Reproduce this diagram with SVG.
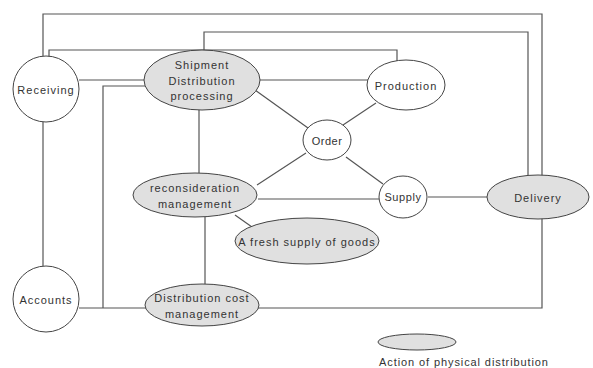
<svg xmlns="http://www.w3.org/2000/svg" width="593" height="368" viewBox="0 0 593 368">
<style>
.c{fill:#fff;stroke:#444;stroke-width:1}
.g{fill:#e0e0e0;stroke:#444;stroke-width:1}
.l{fill:none;stroke:#555;stroke-width:1.2}
text{font-family:"Liberation Sans",Arial,sans-serif;font-size:11px;fill:#333;text-anchor:middle;letter-spacing:1px}
</style>
<rect width="593" height="368" fill="#fff"/>
<g id="connectors">
<polyline class="l" points="43,56 43,14 542,14 542,177"/>
<polyline class="l" points="204,50 204,32 528,32 528,177"/>
<polyline class="l" points="49,57 49,50 397,50 397,61"/>
<line class="l" x1="79" y1="80" x2="144" y2="80"/>
<line class="l" x1="259" y1="80" x2="368" y2="80"/>
<polyline class="l" points="103,308 103,86 145,86"/>
<line class="l" x1="43" y1="122" x2="43" y2="266"/>
<line class="l" x1="79" y1="308" x2="146" y2="308"/>
<polyline class="l" points="258,308 542,308 542,218"/>
<line class="l" x1="199" y1="110" x2="199" y2="173"/>
<line class="l" x1="205" y1="217" x2="205" y2="284"/>
<line class="l" x1="235" y1="215" x2="252" y2="227"/>
<line class="l" x1="258" y1="199" x2="379" y2="199"/>
<line class="l" x1="428" y1="197" x2="487" y2="197"/>
<line class="l" x1="255" y1="90" x2="308" y2="128"/>
<line class="l" x1="376" y1="103" x2="343" y2="125"/>
<line class="l" x1="257" y1="185" x2="306" y2="153"/>
<line class="l" x1="346" y1="157" x2="383" y2="184"/>
</g>
<g id="receiving"><circle class="c" cx="46" cy="89" r="33"/><text x="46" y="94">Receiving</text></g>
<g id="accounts"><circle class="c" cx="46" cy="299" r="33"/><text x="46" y="304">Accounts</text></g>
<g id="shipment"><ellipse class="g" cx="202" cy="80" rx="58" ry="30"/><text x="202" y="69">Shipment</text><text x="202" y="85">Distribution</text><text x="202" y="100">processing</text></g>
<g id="production"><ellipse class="c" cx="406" cy="85" rx="39" ry="25"/><text x="406" y="90">Production</text></g>
<g id="order"><ellipse class="c" cx="327" cy="140" rx="24" ry="20"/><text x="327" y="145" style="letter-spacing:0.5px">Order</text></g>
<g id="reconsideration"><ellipse class="g" cx="195" cy="195" rx="62" ry="22"/><text x="195" y="192">reconsideration</text><text x="195" y="208">management</text></g>
<g id="supply"><ellipse class="c" cx="403" cy="197" rx="24" ry="21"/><text x="403" y="201" style="letter-spacing:0.6px">Supply</text></g>
<g id="delivery"><ellipse class="g" cx="538" cy="197" rx="51" ry="22"/><text x="538" y="202">Delivery</text></g>
<g id="fresh"><ellipse class="g" cx="307" cy="241" rx="72" ry="23"/><text x="307" y="246">A fresh supply of goods</text></g>
<g id="distcost"><ellipse class="g" cx="202" cy="305" rx="57" ry="21"/><text x="202" y="302">Distribution cost</text><text x="202" y="318">management</text></g>
<g id="legend"><ellipse class="g" cx="417" cy="342" rx="39" ry="8"/><text x="464" y="366" style="letter-spacing:0.9px">Action of physical distribution</text></g>
</svg>
